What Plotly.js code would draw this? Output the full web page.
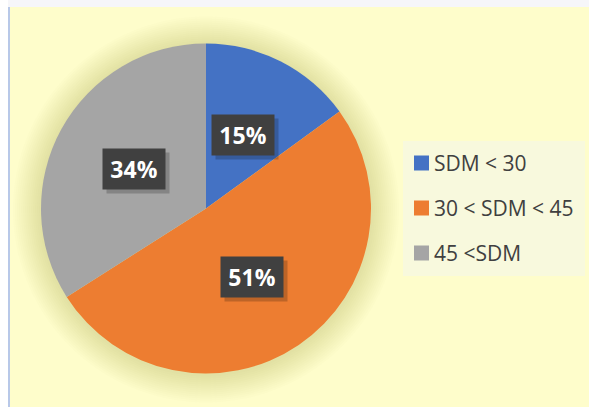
<!DOCTYPE html>
<html>
<head>
<meta charset="utf-8">
<script src="https://cdn.plot.ly/plotly-3.0.1.min.js"></script>
<style>html,body{margin:0;padding:0;background:#fff;}#chart{width:589px;height:407px;}</style>
</head>
<body>
<div id="chart"></div>
<script>
const categories = ['SDM < 30', '30 < SDM < 45', '45 <SDM'];
const values = [15, 51, 34];
const colors = ['#4472C4', '#ED7D31', '#A5A5A5'];

const W = 589, H = 407;
const cx = 206, cy = 208.5, R = 165;
const px = x => x / W;
const py = y => 1 - y / H;

const shapes = [];
// outer frame strips
shapes.push({type:'rect', xref:'paper', yref:'paper', x0:0, x1:1, y0:py(7), y1:1, fillcolor:'#F6F6F9', line:{width:0}, layer:'below'});
shapes.push({type:'rect', xref:'paper', yref:'paper', x0:0, x1:px(8), y0:0, y1:1, fillcolor:'#FFFFFF', line:{width:0}, layer:'below'});
shapes.push({type:'rect', xref:'paper', yref:'paper', x0:px(8), x1:px(10), y0:0, y1:py(7), fillcolor:'#B8C8E8', line:{width:0}, layer:'below'});
// soft glow around pie
for (let i = 14; i >= 1; i--) {
  const r = R + i * 2;
  shapes.push({type:'circle', xref:'paper', yref:'paper',
    x0:px(cx - r), x1:px(cx + r), y0:py(cy + r + 1), y1:py(cy - r + 1),
    fillcolor:'rgba(170,170,90,0.022)', line:{width:0}, layer:'below'});
}
// legend box
shapes.push({type:'rect', xref:'paper', yref:'paper', x0:px(403), x1:px(585), y0:py(276), y1:py(141), fillcolor:'#F8F9DD', line:{width:0}, layer:'below'});

const annotations = [];
// legend entries
categories.forEach((c, i) => {
  const yc = 163 + i * 45;
  shapes.push({type:'rect', xref:'paper', yref:'paper', x0:px(414), x1:px(429), y0:py(yc + 7.5), y1:py(yc - 7.5), fillcolor:colors[i], line:{width:0}});
  annotations.push({xref:'paper', yref:'paper', x:px(432), y:py(yc), xanchor:'left', yanchor:'middle', showarrow:false,
    text:c, font:{family:'Open Sans', size:21, color:'#404040'}});
});

// data labels at slice mid-angles
const total = values.reduce((a, b) => a + b, 0);
let cum = 0;
values.forEach((v, i) => {
  const mid = (cum + v / 2) / total * 2 * Math.PI;
  cum += v;
  const lx = cx + 0.5 * R * Math.sin(mid);
  const ly = cy - 0.5 * R * Math.cos(mid);
  const pct = Math.round(v / total * 100) + '%';
  annotations.push({xref:'paper', yref:'paper', x:px(lx + 4), y:py(ly + 4), xanchor:'center', yanchor:'middle', showarrow:false,
    text:' ', width:62, height:40, bgcolor:'rgba(0,0,0,0.2)', borderpad:0});
  annotations.push({xref:'paper', yref:'paper', x:px(lx), y:py(ly), xanchor:'center', yanchor:'middle', showarrow:false,
    text:pct, width:62, height:40, bgcolor:'#404040', borderpad:0,
    font:{family:'Open Sans', size:23, color:'#FFFFFF', weight:'bold'}});
});

const data = [{
  type:'pie', labels:categories, values:values, sort:false, direction:'clockwise', rotation:0,
  marker:{colors:colors, line:{width:0}}, textinfo:'none', hoverinfo:'label+percent',
  domain:{x:[px(cx - R), px(cx + R)], y:[py(cy + R), py(cy - R)]}, showlegend:false
}];

const layout = {
  width:W, height:H, margin:{l:0, r:0, t:0, b:0},
  paper_bgcolor:'#FEFDCB', plot_bgcolor:'#FEFDCB',
  showlegend:false, shapes:shapes, annotations:annotations
};

Plotly.newPlot('chart', data, layout, {displayModeBar:false, staticPlot:true});
</script>
</body>
</html>
